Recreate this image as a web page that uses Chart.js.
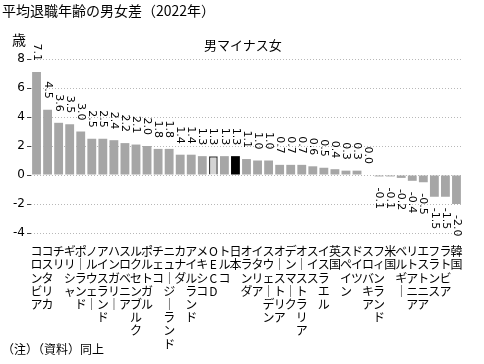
<!DOCTYPE html>
<html>
<head>
<meta charset="utf-8">
<script src="https://cdn.jsdelivr.net/npm/chart.js@4.4.1/dist/chart.umd.min.js"></script>
<style>
  body { margin: 0; background: #fff; font-family: "Noto Sans CJK JP", sans-serif; }
  #wrap { position: relative; width: 484px; height: 364px; }
  canvas { position: absolute; left: 0; top: 0; }
  .txt { position: absolute; color: #000; white-space: nowrap; line-height: 1; }
</style>
</head>
<body>
<div id="wrap">
  <canvas id="chart" width="484" height="364"></canvas>
  <div class="txt" style="left:2px; top:3px; font-size:14px;">平均退職年齢の男女差（2022年）</div>
  <div class="txt" style="left:12px; top:32px; font-size:14px;">歳</div>
  <div class="txt" style="left:204px; top:38px; font-size:13px;">男マイナス女</div>
  <div class="txt" style="left:2px; top:343px; font-size:12px;">（注）（資料）同上</div>
</div>
<script>
const countries = ['コロンビア', 'コスタリカ', 'チリ', 'ギリシャ', 'ポーランド', 'ノルウェー', 'アイスランド',
  'ハンガリー', 'スロベニア', 'ルクセンブルク', 'ポルトガル', 'チェコ', 'ニュージーランド', 'カナダ',
  'アイルランド', 'メキシコ', 'OECD', 'トルコ', '日本', 'オランダ', 'イタリア', 'スウェーデン',
  'オーストリア', 'デンマーク', 'オーストラリア', 'スイス', 'イスラエル', '英国', 'スペイン', 'ドイツ',
  'スロバキア', 'フィンランド', '米国', 'ベルギー', 'リトアニア', 'エストニア', 'フランス', 'ラトビア', '韓国'];
const gapValues = [7.1, 4.5, 3.6, 3.5, 3.0, 2.5, 2.5, 2.4, 2.2, 2.1, 2.0, 1.8, 1.8, 1.4,
  1.4, 1.3, 1.3, 1.3, 1.3, 1.1, 1.0, 1.0,
  0.7, 0.7, 0.7, 0.6, 0.5, 0.4, 0.3, 0.3,
  0.0, -0.1, -0.1, -0.2, -0.4, -0.5, -1.5, -1.5, -2.0];
const yTicks = [8, 6, 4, 2, 0, -2, -4];

// vertical labels: one character per line, long vowel turned upright
const verticalLabels = countries.map(n => n.replace(/ー/g, '｜').split(''));

const barColors = countries.map(n => n === '日本' ? '#000000' : (n === 'OECD' ? '#d4d4d4' : '#a6a6a6'));
const borderColors = countries.map(n => n === 'OECD' ? '#404040' : 'rgba(0,0,0,0)');
const borderWidths = countries.map(n => n === 'OECD' ? 1.5 : 0);

// rotated value labels above / below each bar
const valueLabels = {
  id: 'valueLabels',
  afterDatasetsDraw(chart) {
    const ctx = chart.ctx;
    const meta = chart.getDatasetMeta(0);
    ctx.save();
    ctx.font = '11px "DejaVu Sans", sans-serif';
    ctx.fillStyle = '#000';
    ctx.textBaseline = 'middle';
    meta.data.forEach((bar, i) => {
      const v = gapValues[i];
      const text = v.toFixed(1);
      ctx.save();
      if (v >= 0) {
        ctx.translate(bar.x, Math.min(bar.y, bar.base) - 11);
        ctx.rotate(Math.PI / 2);
        ctx.textAlign = 'right';
      } else {
        ctx.translate(bar.x, Math.max(bar.y, bar.base) + 11);
        ctx.rotate(Math.PI / 2);
        ctx.textAlign = 'left';
      }
      ctx.fillText(text, 0, 0);
      ctx.restore();
    });
    ctx.restore();
  }
};

new Chart(document.getElementById('chart'), {
  type: 'bar',
  data: {
    labels: verticalLabels,
    datasets: [{
      label: '男マイナス女',
      data: gapValues,
      backgroundColor: barColors,
      borderColor: borderColors,
      borderWidth: borderWidths,
      barPercentage: 0.8,
      categoryPercentage: 1.0
    }]
  },
  options: {
    responsive: false,
    animation: false,
    layout: { padding: { top: 59, right: 22, left: 0, bottom: 0 } },
    plugins: {
      legend: { display: false },
      tooltip: { enabled: false }
    },
    scales: {
      x: {
        grid: { display: false },
        border: { display: false },
        ticks: {
          autoSkip: false,
          maxRotation: 0,
          minRotation: 0,
          padding: 4,
          color: '#000',
          font: { family: '"Noto Sans CJK JP"', size: 12, lineHeight: 1.1 }
        },
        afterFit(scale) { scale.height = 131; }
      },
      y: {
        min: -4,
        max: 8,
        afterBuildTicks(scale) { scale.ticks = yTicks.map(v => ({ value: v })); },
        grid: {
          color: '#b8b8b8',
          tickColor: '#404040',
          tickLength: 4
        },
        border: { display: false, dash: [1, 2] },
        ticks: {
          padding: 2,
          color: '#000',
          font: { family: '"DejaVu Sans"', size: 12 }
        },
        afterFit(scale) { scale.width = 31; }
      }
    }
  },
  plugins: [valueLabels]
});
</script>
</body>
</html>
